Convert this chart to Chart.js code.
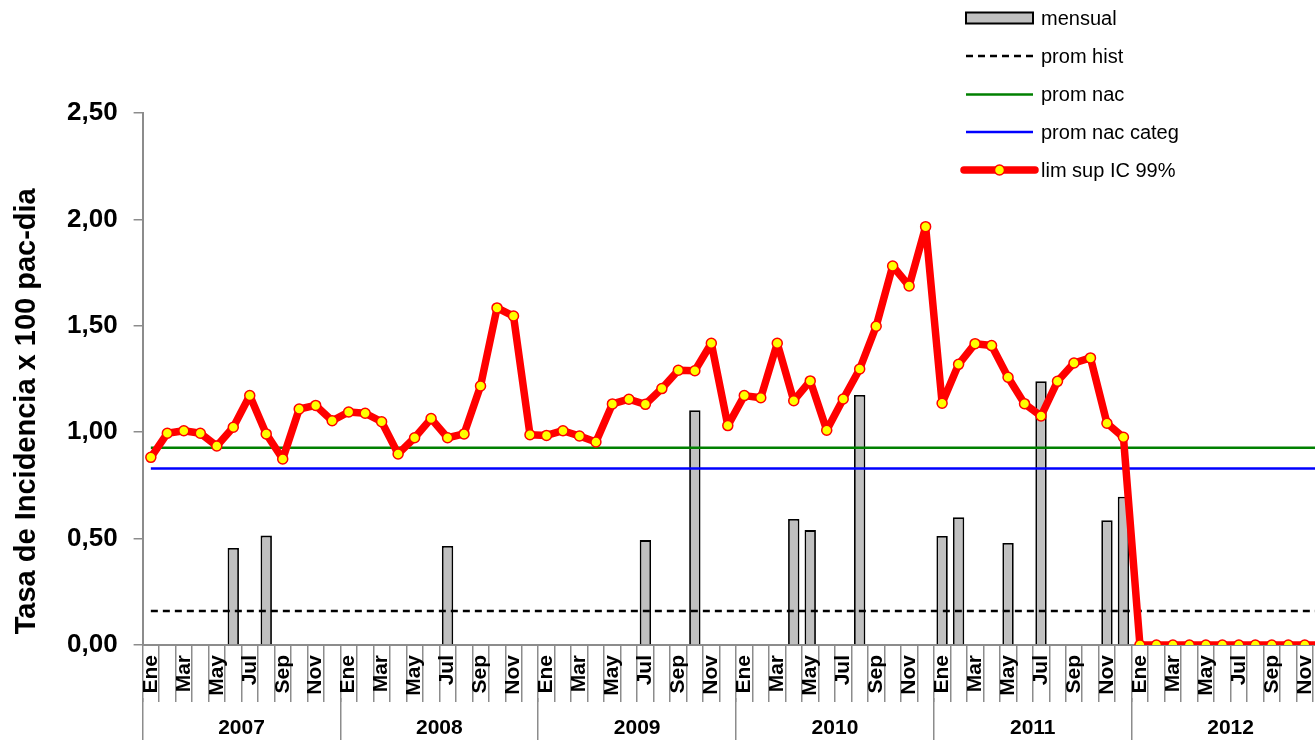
<!DOCTYPE html>
<html>
<head>
<meta charset="utf-8">
<script src="https://cdn.jsdelivr.net/npm/chart.js@4.4.1/dist/chart.umd.min.js"></script>
<style>
  html, body { margin: 0; padding: 0; background: #ffffff; overflow: hidden; }
  #wrap { position: relative; width: 1336px; height: 742px; }
</style>
</head>
<body>
<div id="wrap"><canvas id="c"></canvas></div>
<script>
// ---- data ----
const years = ['2007', '2008', '2009', '2010', '2011', '2012'];
const months = ['Ene', 'Feb', 'Mar', 'Abr', 'May', 'Jun', 'Jul', 'Ago', 'Sep', 'Oct', 'Nov', 'Dic'];

const mensual = [
  0, 0, 0, 0, 0, 0.456, 0, 0.514, 0, 0, 0, 0,
  0, 0, 0, 0, 0, 0, 0.465, 0, 0, 0, 0, 0,
  0, 0, 0, 0, 0, 0, 0.493, 0, 0, 1.103, 0, 0,
  0, 0, 0, 0.592, 0.540, 0, 0, 1.175, 0, 0, 0, 0,
  0.512, 0.600, 0, 0, 0.479, 0, 1.239, 0, 0, 0, 0.586, 0.697,
  0, 0, 0, 0, 0, 0, 0, 0, 0, 0, 0, 0
];

const limSup = [
  0.882, 0.995, 1.007, 0.995, 0.935, 1.023, 1.172, 0.992, 0.874, 1.109, 1.126, 1.054,
  1.095, 1.089, 1.049, 0.898, 0.974, 1.064, 0.974, 0.992, 1.217, 1.584, 1.546, 0.988,
  0.985, 1.007, 0.982, 0.954, 1.133, 1.155, 1.131, 1.205, 1.291, 1.289, 1.418, 1.031,
  1.172, 1.162, 1.418, 1.148, 1.241, 1.009, 1.156, 1.297, 1.498, 1.781, 1.687, 1.966,
  1.136, 1.319, 1.416, 1.407, 1.258, 1.134, 1.076, 1.239, 1.325, 1.349, 1.042, 0.976,
  0, 0, 0, 0, 0, 0, 0, 0, 0, 0, 0, 0
];

const promHist = 0.16;
const promNac = 0.927;
const promNacCateg = 0.83;

const yTicks = [0, 0.5, 1.0, 1.5, 2.0, 2.5];

// ---- derived ----
const categories = years.flatMap(y => months.map(m => m + ' ' + y));
const first = categories[0], last = categories[categories.length - 1];
const flat = v => [{ x: first, y: v }, { x: last, y: v }];

const GRAY = '#8c8c8c';
const FONT = "'Liberation Sans', Arial, sans-serif";
Chart.defaults.font.family = FONT;
Chart.defaults.color = '#000';

const legendPlugin = {
  id: 'manualLegend',
  afterDraw(chart) {
    const ctx = chart.ctx;
    const ds = chart.data.datasets;
    const byLabel = l => ds.find(d => d.label === l);
    const order = ['mensual', 'prom hist', 'prom nac', 'prom nac categ', 'lim sup IC 99%'];
    const rowY = [18, 56, 94.5, 132, 170];
    const x0 = 966, x1 = 1033, tx = 1041;
    ctx.save();
    order.forEach((lab, i) => {
      const d = byLabel(lab);
      const y = rowY[i];
      if (d.type === 'bar') {
        ctx.fillStyle = d.backgroundColor;
        ctx.fillRect(x0, y - 5.5, x1 - x0, 11);
        ctx.lineWidth = 2;
        ctx.strokeStyle = d.borderColor;
        ctx.strokeRect(x0, y - 5.5, x1 - x0, 11);
      } else if (d.pointRadius > 0) {
        ctx.beginPath();
        ctx.lineCap = 'round';
        ctx.lineWidth = d.borderWidth;
        ctx.strokeStyle = d.borderColor;
        ctx.moveTo(x0 - 2, y); ctx.lineTo(x1 + 2, y);
        ctx.stroke();
        ctx.beginPath();
        ctx.arc((x0 + x1) / 2, y, d.pointRadius, 0, Math.PI * 2);
        ctx.fillStyle = d.pointBackgroundColor;
        ctx.fill();
        ctx.lineWidth = d.pointBorderWidth;
        ctx.strokeStyle = d.pointBorderColor;
        ctx.stroke();
      } else {
        ctx.beginPath();
        ctx.lineCap = 'butt';
        ctx.lineWidth = d.borderWidth;
        ctx.strokeStyle = d.borderColor;
        ctx.setLineDash(d.borderDash || []);
        ctx.moveTo(x0, y); ctx.lineTo(x1, y);
        ctx.stroke();
        ctx.setLineDash([]);
      }
      ctx.fillStyle = '#000';
      ctx.font = '20px ' + FONT;
      ctx.textBaseline = 'middle';
      ctx.textAlign = 'left';
      ctx.fillText(lab, tx, y + 1);
    });
    ctx.restore();
  }
};

new Chart(document.getElementById('c'), {
  type: 'bar',
  data: {
    labels: categories,
    datasets: [
      {
        type: 'line', label: 'lim sup IC 99%', data: limSup,
        borderColor: '#FF0000', borderWidth: 7.5, tension: 0,
        borderJoinStyle: 'round', borderCapStyle: 'round',
        pointRadius: 5, pointBorderWidth: 1.5,
        pointBackgroundColor: '#FFFF00', pointBorderColor: '#FF0000',
        order: 0
      },
      {
        type: 'line', label: 'prom nac categ', data: flat(promNacCateg),
        borderColor: '#0000FF', borderWidth: 2.5, pointRadius: 0, order: 1
      },
      {
        type: 'line', label: 'prom nac', data: flat(promNac),
        borderColor: '#008000', borderWidth: 2.5, pointRadius: 0, order: 2
      },
      {
        type: 'line', label: 'prom hist', data: flat(promHist),
        borderColor: '#000000', borderWidth: 2.5, borderDash: [7, 5], pointRadius: 0, order: 3
      },
      {
        type: 'bar', label: 'mensual', data: mensual,
        backgroundColor: '#C0C0C0', borderColor: '#000000', borderWidth: 1.8,
        barPercentage: 0.69, categoryPercentage: 1.0, order: 4
      }
    ]
  },
  options: {
    responsive: true,
    maintainAspectRatio: false,
    animation: false,
    layout: { padding: { left: 10, top: 113, right: 0, bottom: 0 } },
    plugins: { legend: { display: false }, tooltip: { enabled: false } },
    scales: {
      x: {
        type: 'category', position: 'bottom', offset: true, weight: 0,
        grid: { offset: true, drawOnChartArea: false, color: GRAY, lineWidth: 1.5, tickLength: 57 },
        border: { color: GRAY, width: 2 },
        ticks: {
          autoSkip: false, minRotation: 90, maxRotation: 90, padding: -47,
          color: '#000', font: { size: 21, weight: 'bold' },
          callback: (v, i) => (i % 2 === 0 ? months[i % 12] : '')
        },
        afterFit: s => { s.height = 53; }
      },
      x2: {
        type: 'category', position: 'bottom', labels: years, offset: true, weight: 1,
        grid: { offset: true, drawOnChartArea: false, color: GRAY, lineWidth: 1.5, tickLength: 42 },
        border: { display: false },
        ticks: { autoSkip: false, maxRotation: 0, padding: -24, color: '#000', font: { size: 21, weight: 'bold' } },
        afterFit: s => { s.height = 44; }
      },
      y: {
        min: 0, max: 2.5,
        afterBuildTicks: s => { s.ticks = yTicks.map(v => ({ value: v })); },
        afterFit: s => { s.width = 132.6; },
        grid: { drawOnChartArea: false, tickLength: 9, color: GRAY, lineWidth: 1.5 },
        border: { color: GRAY, width: 2 },
        ticks: {
          padding: 16, color: '#000', font: { size: 26, weight: 'bold' },
          callback: v => v.toFixed(2).replace('.', ',')
        },
        title: {
          display: true, text: 'Tasa de Incidencia x 100 pac-dia        ', color: '#000',
          font: { size: 29, weight: 'bold' }, padding: { top: 0, bottom: 0 }
        }
      }
    }
  },
  plugins: [legendPlugin]
});
</script>
</body>
</html>
